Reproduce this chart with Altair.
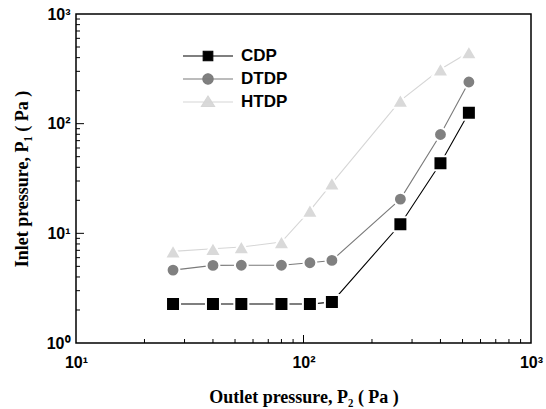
import altair as alt
import pandas as pd

# ---------------- data ----------------
series_names = ["CDP", "DTDP", "HTDP"]
outlet_p = [26.7, 40.0, 53.3, 80.0, 106.7, 133.3, 266.6, 400.0, 533.3]
cdp = [2.27, 2.27, 2.27, 2.27, 2.27, 2.36, 12.1, 43.6, 126.0]
dtdp = [4.62, 5.10, 5.12, 5.12, 5.39, 5.66, 20.5, 79.6, 240.0]
htdp = [6.84, 7.23, 7.50, 8.32, 16.1, 28.5, 162.0, 313.0, 448.0]

x_label_values = [10, 100, 1000]
x_tick_labels = ["10¹", "10²", "10³"]
y_label_values = [1, 10, 100, 1000]
y_tick_labels = ["10⁰", "10¹", "10²", "10³"]

x_major_ticks = [100]
x_minor_ticks = [20, 30, 40, 50, 60, 70, 80, 90, 200, 300, 400, 500, 600, 700, 800, 900]
y_major_ticks = [10, 100]
y_minor_ticks = [2, 3, 4, 5, 6, 7, 8, 9, 20, 30, 40, 50, 60, 70, 80, 90,
                 200, 300, 400, 500, 600, 700, 800, 900]

# ---------------- styling ----------------
W, H = 455, 329
point_fill = {"CDP": "#000000", "DTDP": "#808080", "HTDP": "#d9d9d9"}
line_col = {"CDP": "#000000", "DTDP": "#7a7a7a", "HTDP": "#d6d6d6"}
shapes = {"CDP": "square", "DTDP": "circle", "HTDP": "triangle-up"}
sizes = {"CDP": 196, "DTDP": 165, "HTDP": 270}
# legend glyphs: line + marker, in units of 10 px (symbolSize 400)
legend_paths = [
    "M-2.5,0H2.5M-0.48,-0.48H0.48V0.48H-0.48Z",
    "M-2.5,0H2.5M0.52,0A0.52,0.52 0 1,1 -0.52,0A0.52,0.52 0 1,1 0.52,0Z",
    "M-2.5,0H2.5M0,-0.6L0.66,0.45H-0.66Z",
]

rows = []
for name, vals in zip(series_names, [cdp, dtdp, htdp]):
    for xv, yv in zip(outlet_p, vals):
        rows.append({"x": xv, "y": yv, "series": name})
df = pd.DataFrame(rows)


def label_expr(values, labels):
    return "".join(f"datum.value == {v} ? '{t}' : " for v, t in zip(values, labels)) + "''"


xscale = alt.Scale(type="log", domain=[10, 1000], nice=False)
yscale = alt.Scale(type="log", domain=[1, 1000], nice=False)

sans = "Liberation Sans"
serif = "Liberation Serif"

xaxis = alt.Axis(
    values=x_label_values, labelExpr=label_expr(x_label_values, x_tick_labels),
    ticks=False, domain=False, grid=False, labelFlush=False, labelOverlap=False,
    labelFont=sans, labelFontWeight="bold", labelFontSize=16, labelColor="black",
    labelPadding=11,
    title="Outlet pressure,  P₂  ( Pa )", titleFont=serif, titleFontWeight="bold",
    titleFontSize=18, titleColor="black", titleX=W / 2, titleY=54,
    titleBaseline="middle", titleAlign="center",
)
yaxis = alt.Axis(
    values=y_label_values, labelExpr=label_expr(y_label_values, y_tick_labels),
    ticks=False, domain=False, grid=False, labelFlush=False, labelOverlap=False,
    labelFont=sans, labelFontWeight="bold", labelFontSize=16, labelColor="black",
    labelPadding=6,
    title="Inlet pressure,  P₁  ( Pa )", titleFont=serif, titleFontWeight="bold",
    titleFontSize=18, titleColor="black", titleX=-54, titleY=H / 2,
    titleBaseline="middle", titleAlign="center", titleAngle=-90,
)


def X(field="x"):
    return alt.X(f"{field}:Q", scale=xscale, axis=xaxis)


def Y(field="y"):
    return alt.Y(f"{field}:Q", scale=yscale, axis=yaxis)


base = alt.Chart(df)

layers = []
for name in series_names:
    sub = base.transform_filter(alt.datum.series == name)
    layers.append(
        sub.mark_line(color=line_col[name], strokeWidth=1.1).encode(x=X(), y=Y())
    )
for name in series_names:
    sub = base.transform_filter(alt.datum.series == name)
    layers.append(
        sub.mark_point(shape=shapes[name], filled=True, fill=point_fill[name],
                       stroke="white", strokeWidth=2, size=sizes[name], opacity=1)
        .encode(x=X(), y=Y())
    )

# legend (native legend, symbols are line + marker paths)
leg = alt.Legend(
    orient="none", legendX=121, legendY=31, padding=0, title=None,
    labelFont=sans, labelFontWeight="bold", labelFontSize=17, labelColor="black",
    symbolSize=400, symbolStrokeWidth=1.1, labelOffset=22, rowPadding=4,
)
legend_layer = base.transform_filter("false").mark_point(filled=True, opacity=1).encode(
    x=X(), y=Y(),
    shape=alt.Shape("series:N", scale=alt.Scale(domain=series_names, range=legend_paths), legend=leg),
    fill=alt.Fill("series:N", scale=alt.Scale(domain=series_names,
                                               range=[point_fill[n] for n in series_names]), legend=leg),
    stroke=alt.Stroke("series:N", scale=alt.Scale(domain=series_names,
                                                   range=[line_col[n] for n in series_names]), legend=leg),
)
layers.append(legend_layer)

# inward ticks
xt_major = alt.Chart(pd.DataFrame({"x": x_major_ticks})).mark_rule(color="black", strokeWidth=1).encode(
    x=X(), y=alt.value(H), y2=alt.value(H - 8))
xt_minor = alt.Chart(pd.DataFrame({"x": x_minor_ticks})).mark_rule(color="black", strokeWidth=1).encode(
    x=X(), y=alt.value(H), y2=alt.value(H - 4))
yt_major = alt.Chart(pd.DataFrame({"y": y_major_ticks})).mark_rule(color="black", strokeWidth=1).encode(
    y=Y(), x=alt.value(0), x2=alt.value(8))
yt_minor = alt.Chart(pd.DataFrame({"y": y_minor_ticks})).mark_rule(color="black", strokeWidth=1).encode(
    y=Y(), x=alt.value(0), x2=alt.value(4))
layers += [xt_major, xt_minor, yt_major, yt_minor]

chart = alt.layer(*layers).properties(
    width=W, height=H,
    autosize=alt.AutoSizeParams(type="none"),
    padding={"left": 76, "top": 14, "right": 15, "bottom": 66},
    background="white",
).configure_view(stroke="black", strokeWidth=1.5)

chart.save("out.html", embed_options={"renderer": "svg", "actions": False})
